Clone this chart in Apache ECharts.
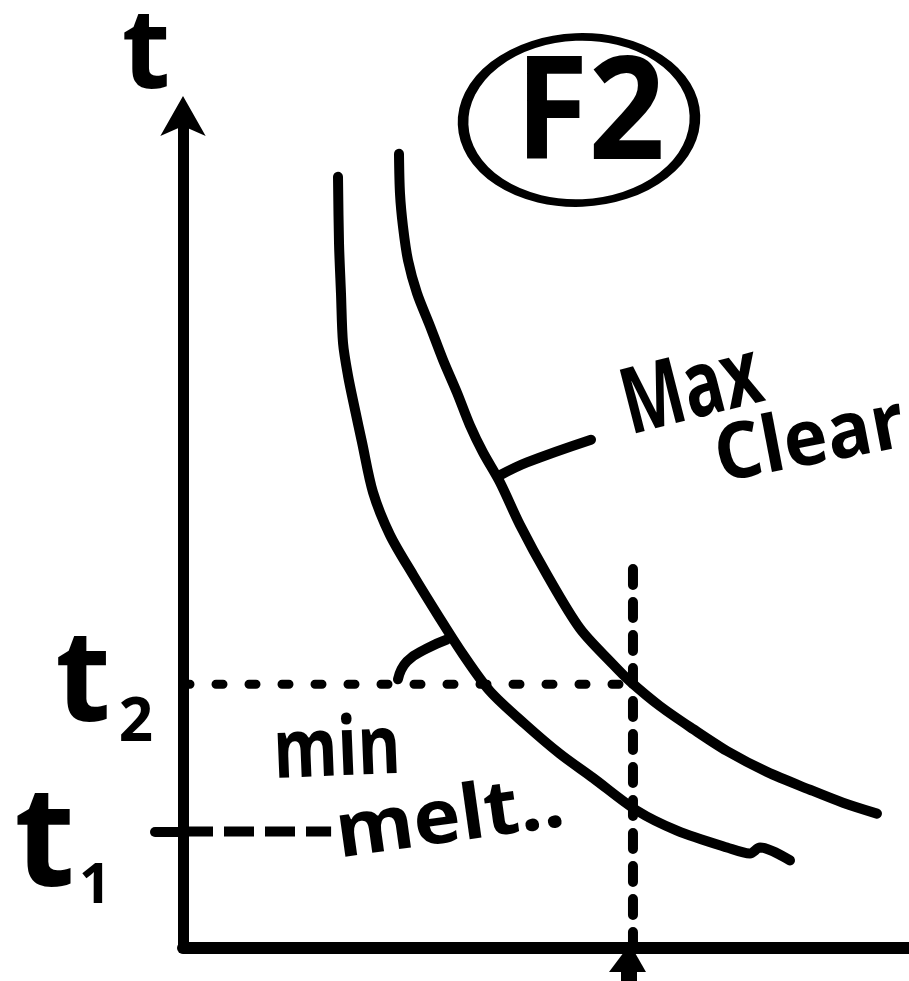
<!DOCTYPE html>
<html>
<head>
<meta charset="utf-8">
<script src="https://cdn.jsdelivr.net/npm/echarts@6/dist/echarts.min.js"></script>
<style>
  html, body { margin: 0; padding: 0; background: #fff; }
  #chart { width: 909px; height: 981px; }
</style>
</head>
<body>
<div id="chart"></div>
<script>
// Sketch of the F2 window: time t against an unlabelled x quantity (0–100 units).

// "Max Clear" curve
const maxClearX = [29.75, 29.89, 30.30, 30.99, 32.23, 34.02, 35.81, 37.74, 39.53, 41.32, 43.66, 46.42, 50.14, 54.68, 59.23, 61.57, 65.70, 70.25, 74.93, 80.44, 86.36, 90.91, 95.59];
const maxClearT = [95.45, 90.67, 86.72, 82.66, 78.71, 74.76, 70.69, 66.75, 62.80, 59.57, 55.98, 50.84, 44.86, 38.40, 34.09, 32.06, 29.07, 26.32, 23.68, 21.17, 19.02, 17.46, 16.15];

// "min melt" curve
const minMeltX = [21.35, 21.49, 21.76, 22.04, 22.73, 23.69, 24.66, 26.17, 28.51, 31.68, 35.40, 38.57, 42.29, 47.11, 51.93, 56.47, 62.53, 68.04, 74.93, 78.10, 79.48, 83.61];
const minMeltT = [92.70, 84.69, 78.71, 72.73, 68.78, 64.71, 60.77, 54.78, 49.64, 44.86, 39.59, 35.29, 30.86, 26.91, 23.33, 20.45, 16.51, 14.11, 12.08, 11.36, 12.08, 10.53];

// Leader strokes from the labels to their curves
const maxLeaderX = [43.66, 47.38, 56.20];
const maxLeaderT = [56.82, 58.37, 61.10];
const minLeaderX = [29.61, 30.85, 33.61, 36.36];
const minLeaderT = [32.30, 34.45, 36.00, 37.08];

// Reference levels and the chosen x position
const t1 = 14.0;
const t2 = 31.7;
const xMark = 61.98;
const vGuideTop = 46.65;
const t1DashEnd = 20.4;

// y-axis tick labels: t with a subscript
const tickValues = [t1, t2];
const tickSubs = ['1', '2'];

const zip = (xs, ys) => xs.map((x, i) => [x, ys[i]]);
const FONT = "'Open Sans', 'DejaVu Sans', sans-serif";
const INK = '#000';

const chart = echarts.init(document.getElementById('chart'), null, { renderer: 'canvas' });

chart.setOption({
  animation: false,
  backgroundColor: '#fff',
  grid: { left: 183, right: 0, top: 112, bottom: 33, containLabel: false },
  xAxis: {
    type: 'value', min: 0, max: 100,
    axisLine: { show: true, lineStyle: { color: INK, width: 12, cap: 'round' } },
    axisTick: { show: false },
    axisLabel: { show: false },
    splitLine: { show: false }
  },
  yAxis: {
    type: 'value', min: 0, max: 100,
    name: 't',
    nameLocation: 'end',
    nameGap: 4,
    nameTextStyle: {
      color: INK, fontFamily: FONT, fontWeight: 'bold', fontSize: 112,
      padding: [0, 74, 0, 0], align: 'center', verticalAlign: 'bottom'
    },
    axisLine: {
      show: true,
      symbol: ['none', 'arrow'],
      symbolSize: [34, 40],
      symbolOffset: [0, 20],
      lineStyle: { color: INK, width: 11 }
    },
    axisTick: {
      show: true, customValues: [t1], length: 28, inside: false,
      lineStyle: { color: INK, width: 10, cap: 'round' }
    },
    axisLabel: {
      show: true,
      customValues: tickValues,
      margin: 30,
      formatter: (v) => {
        const i = tickValues.indexOf(v);
        return i === 0 ? '{a|t}{as|' + tickSubs[0] + '}' : '{b|t}{bs|' + tickSubs[1] + '}';
      },
      rich: {
        a:  { fontFamily: FONT, fontWeight: 'bold', fontSize: 140, lineHeight: 140, color: INK, verticalAlign: 'top', padding: [15, 0, 0, 0] },
        as: { fontFamily: FONT, fontWeight: 'bold', fontSize: 56, lineHeight: 56, color: INK, verticalAlign: 'top', padding: [98, 42, 0, 4] },
        b:  { fontFamily: FONT, fontWeight: 'bold', fontSize: 128, lineHeight: 128, color: INK, verticalAlign: 'top' },
        bs: { fontFamily: FONT, fontWeight: 'bold', fontSize: 60, lineHeight: 60, color: INK, verticalAlign: 'top', padding: [74, 0, 0, 8] }
      }
    },
    splitLine: { show: false }
  },
  series: [
    {
      name: 'Max Clear', type: 'line', data: zip(maxClearX, maxClearT),
      smooth: 0.3, symbol: 'none', silent: true,
      lineStyle: { color: INK, width: 10, cap: 'round', join: 'round' }
    },
    {
      name: 'min melt', type: 'line', data: zip(minMeltX, minMeltT),
      smooth: 0.3, symbol: 'none', silent: true,
      lineStyle: { color: INK, width: 10, cap: 'round', join: 'round' }
    },
    {
      name: 'Max Clear leader', type: 'line', data: zip(maxLeaderX, maxLeaderT),
      smooth: 0.4, symbol: 'none', silent: true,
      lineStyle: { color: INK, width: 10, cap: 'round' }
    },
    {
      name: 'min melt leader', type: 'line', data: zip(minLeaderX, minLeaderT),
      smooth: 0.5, symbol: 'none', silent: true,
      lineStyle: { color: INK, width: 10, cap: 'round' }
    },
    {
      name: 't2 guide', type: 'line', data: [[0, t2], [xMark, t2]],
      symbol: 'none', silent: true,
      lineStyle: { color: INK, width: 9, type: [7, 26], cap: 'round' }
    },
    {
      name: 't1 guide', type: 'line', data: [[0, t1], [t1DashEnd, t1]],
      symbol: 'none', silent: true,
      lineStyle: { color: INK, width: 10, type: [30, 11], cap: 'butt' }
    },
    {
      name: 'x guide', type: 'line', data: [[xMark, 0], [xMark, vGuideTop]],
      symbol: 'none', silent: true,
      lineStyle: { color: INK, width: 10, type: [16, 17], cap: 'round' }
    },
    {
      name: 'x marker', type: 'custom', clip: false, silent: true,
      data: [[xMark, 0]],
      renderItem: (params, api) => {
        const p = api.coord([api.value(0), api.value(1)]);
        return {
          type: 'group',
          children: [
            { type: 'polygon', shape: { points: [[p[0] - 3, p[1] - 4], [p[0] - 24, p[1] + 24], [p[0] + 13, p[1] + 24]] }, style: { fill: INK } },
            { type: 'rect', shape: { x: p[0] - 12, y: p[1] + 10, width: 16, height: 40 }, style: { fill: INK } }
          ]
        };
      }
    }
  ],
  graphic: [
    {
      type: 'circle', x: 579, y: 120, rotation: 0.04, scaleX: 1.16, scaleY: 0.83,
      shape: { cx: 0, cy: 0, r: 100 },
      style: { fill: 'none', stroke: INK, lineWidth: 9, strokeNoScale: true }
    },
    {
      type: 'text', x: 590, y: 118, scaleX: 0.93,
      style: { text: 'F2', fontFamily: FONT, fontWeight: 'bold', fontSize: 144, fill: INK, align: 'center', verticalAlign: 'middle' }
    },
    {
      type: 'text', x: 692, y: 392, rotation: 0.25, scaleX: 0.72,
      style: { text: 'Max', fontFamily: FONT, fontWeight: 'bold', fontSize: 92, fill: INK, align: 'center', verticalAlign: 'middle' }
    },
    {
      type: 'text', x: 810, y: 442, rotation: 0.19, scaleX: 0.95,
      style: { text: 'Clear', fontFamily: FONT, fontWeight: 'bold', fontSize: 78, fill: INK, align: 'center', verticalAlign: 'middle' }
    },
    {
      type: 'text', x: 337, y: 752, rotation: 0.04, scaleX: 0.8,
      style: { text: 'min', fontFamily: FONT, fontWeight: 'bold', fontSize: 82, fill: INK, align: 'center', verticalAlign: 'middle' }
    },
    {
      type: 'text', x: 450, y: 820, rotation: 0.14, scaleX: 1.05,
      style: { text: 'melt..', fontFamily: FONT, fontWeight: 'bold', fontSize: 76, fill: INK, align: 'center', verticalAlign: 'middle' }
    }
  ]
});
</script>
</body>
</html>
